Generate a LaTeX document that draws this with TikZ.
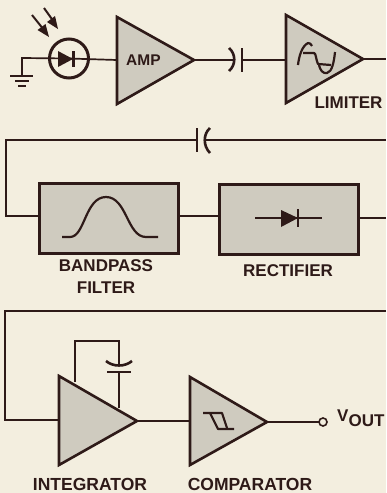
\documentclass[tikz,border=0pt]{standalone}
\usepackage{fontspec}
\setmainfont{Liberation Sans}
\definecolor{paper}{HTML}{F3EEDF}
\definecolor{ink}{HTML}{2E1A18}
\definecolor{shade}{HTML}{CFCBBF}
\tikzset{
 wire/.style={draw=ink,line width=1.7pt},
 tri/.style={draw=ink,line width=2.6pt,fill=shade,line join=miter},
 blockbox/.style={draw=ink,line width=2.8pt,fill=shade,inner sep=0pt,anchor=north west},
 lab/.style={text=ink,font=\fontsize{17}{17}\selectfont\bfseries,inner sep=0pt,align=center},
 plate/.style={draw=ink,line width=2.6pt},
 symb/.style={draw=ink,line width=2.2pt,line join=round},
}
\begin{document}
\begin{tikzpicture}[x=1pt,y=-1pt]
\useasboundingbox (0,0) rectangle (386,493);
\fill[paper] (0,0) rectangle (386,493);
% named points
\coordinate (gnd) at (22,76);
\coordinate (gc) at (22,58);
\coordinate (pd) at (69,58.5);
\coordinate (ampin) at (117,60);
\coordinate (amptip) at (194,60);
\coordinate (c1a) at (235,60);
\coordinate (c1b) at (242,60);
\coordinate (limin) at (286,60);
\coordinate (limtip) at (363,59);
\coordinate (edge1) at (386,59);
\coordinate (edge2) at (386,140);
\coordinate (c2a) at (204,140);
\coordinate (c2b) at (197,140);
\coordinate (lt) at (6,140);
\coordinate (lb) at (6,216);
\coordinate (edge3) at (386,218);
\coordinate (edge4) at (386,311);
\coordinate (l3t) at (5,311);
\coordinate (l3b) at (5,420);
\coordinate (intin) at (59,420);
\coordinate (inttip) at (137,421);
\coordinate (cmpin) at (190,421);
\coordinate (cmptip) at (267,422);
\coordinate (fa) at (75,382);
\coordinate (fb) at (75,341);
\coordinate (fc) at (119,341);
\coordinate (fd) at (119,366);
\coordinate (fe) at (119,372);
\coordinate (ff) at (119,408);
% wires
\draw[wire] (gnd) -- (gc) -- (pd);
\draw[wire] (pd) -- (ampin);
\draw[wire] (amptip) -- (c1a);
\draw[wire] (c1b) -- (limin);
\draw[wire] (limtip) -- (edge1);
\draw[wire] (edge2) -- (c2a);
\draw[wire] (c2b) -- (lt) -- (lb) -- (38,216);
\draw[wire] (edge4) -- (l3t) -- (l3b) -- (intin);
\draw[wire] (inttip) -- (cmpin);
\draw[wire] (fa) -- (fb) -- (fc) -- (fd);
\draw[wire] (fe) -- (ff);
% ground
\draw[plate,line width=2.2pt] (10,76) -- (33,76) (15,81) -- (29,81) (18,86) -- (26,86);
% light arrows
\draw[wire,line width=2pt] (32,15) -- (44,30);
\fill[ink] (49,37) -- (37.5,30) -- (45.5,24) -- cycle;
\draw[wire,line width=2pt] (44,8) -- (54,22);
\fill[ink] (58,29) -- (47,22) -- (55,16) -- cycle;
% photodiode
\node[circle,draw=ink,line width=3pt,minimum size=39pt,inner sep=0pt] (pdc) at (pd) {};
\fill[ink] (58,51) -- (73,59) -- (58,67) -- cycle;
\draw[plate,line width=2.2pt] (73.5,51) -- (73.5,67);
% triangles
\draw[tri] (117,17) -- (194,60) -- (117,104) -- cycle;
\draw[tri] (286,15) -- (363,59) -- (286,103) -- cycle;
\draw[tri] (59,376) -- (137,421) -- (59,465) -- cycle;
\draw[tri] (190,377) -- (267,422) -- (190,465) -- cycle;
\node[lab,anchor=west,font=\fontsize{15.5}{15.5}\selectfont\bfseries] (amp) at (126,60) {AMP};
% caps
\draw[plate] (229,48) .. controls (236,54) and (236,65) .. (229,71);
\draw[plate] (242,48) -- (242,72);
\draw[plate] (210,128) .. controls (203,134) and (203,146) .. (210,153);
\draw[plate] (197,128) -- (197,152);
\draw[plate] (106,361) .. controls (113,367) and (125,367) .. (132,361);
\draw[plate] (107,372) -- (131,372);
% limiter wave
\draw[symb] (298,65) .. controls (299,56) and (302,46) .. (308,43) .. controls (310,43) and (311,44) .. (312,46);
\draw[symb] (303,53) -- (314,53) .. controls (316,53) and (316,60) .. (318,64) -- (331,65);
\draw[symb] (319,65) .. controls (320,70) and (323,74) .. (327,73) .. controls (332,72) and (334,62) .. (335,52);
% boxes
\node[blockbox,minimum width=139pt,minimum height=70pt] (bp) at (38,182) {};
\node[blockbox,minimum width=139pt,minimum height=70pt] (rect) at (218,183) {};
\draw[wire] (bp.east |- 0,216) -- (rect.west |- 0,216);
\draw[wire] (rect.east |- 0,218) -- (edge3);
% bell
\draw[symb] (62,237) -- (70,237) .. controls (85,237) and (85,197) .. (106,197) .. controls (127,197) and (127,237) .. (146,237) -- (158,237);
% rectifier diode
\draw[wire,line width=1.4pt] (255,218) -- (322,218);
\fill[ink] (281,210) -- (298,218) -- (281,227) -- cycle;
\draw[plate,line width=1.8pt] (298,209) -- (298,227);
% comparator symbol
\draw[symb] (203,413) -- (222,413) -- (227,428);
\draw[symb] (210,413) -- (218,429) -- (234,429);
% output
\draw[wire] (cmptip) -- (319,422);
\node[circle,draw=ink,line width=1.6pt,fill=paper,minimum size=8pt,inner sep=0pt] (out) at (323,422) {};
% labels
\node[lab] (l1) at (348.5,102.5) {LIMITER};
\node[lab] (l2) at (106,266) {BANDPASS};
\node[lab] (l3) at (106,288) {FILTER};
\node[lab] (l4) at (288,271) {RECTIFIER};
\node[lab,font=\fontsize{17.5}{17.5}\selectfont\bfseries] (l5) at (90,484) {INTEGRATOR};
\node[lab,font=\fontsize{17.5}{17.5}\selectfont\bfseries] (l6) at (250,484) {COMPARATOR};
\node[lab,anchor=west,font=\fontsize{17}{17}\selectfont\bfseries] (l7) at (337,418) {V\raisebox{-5pt}{OUT}};
\end{tikzpicture}
\end{document}
